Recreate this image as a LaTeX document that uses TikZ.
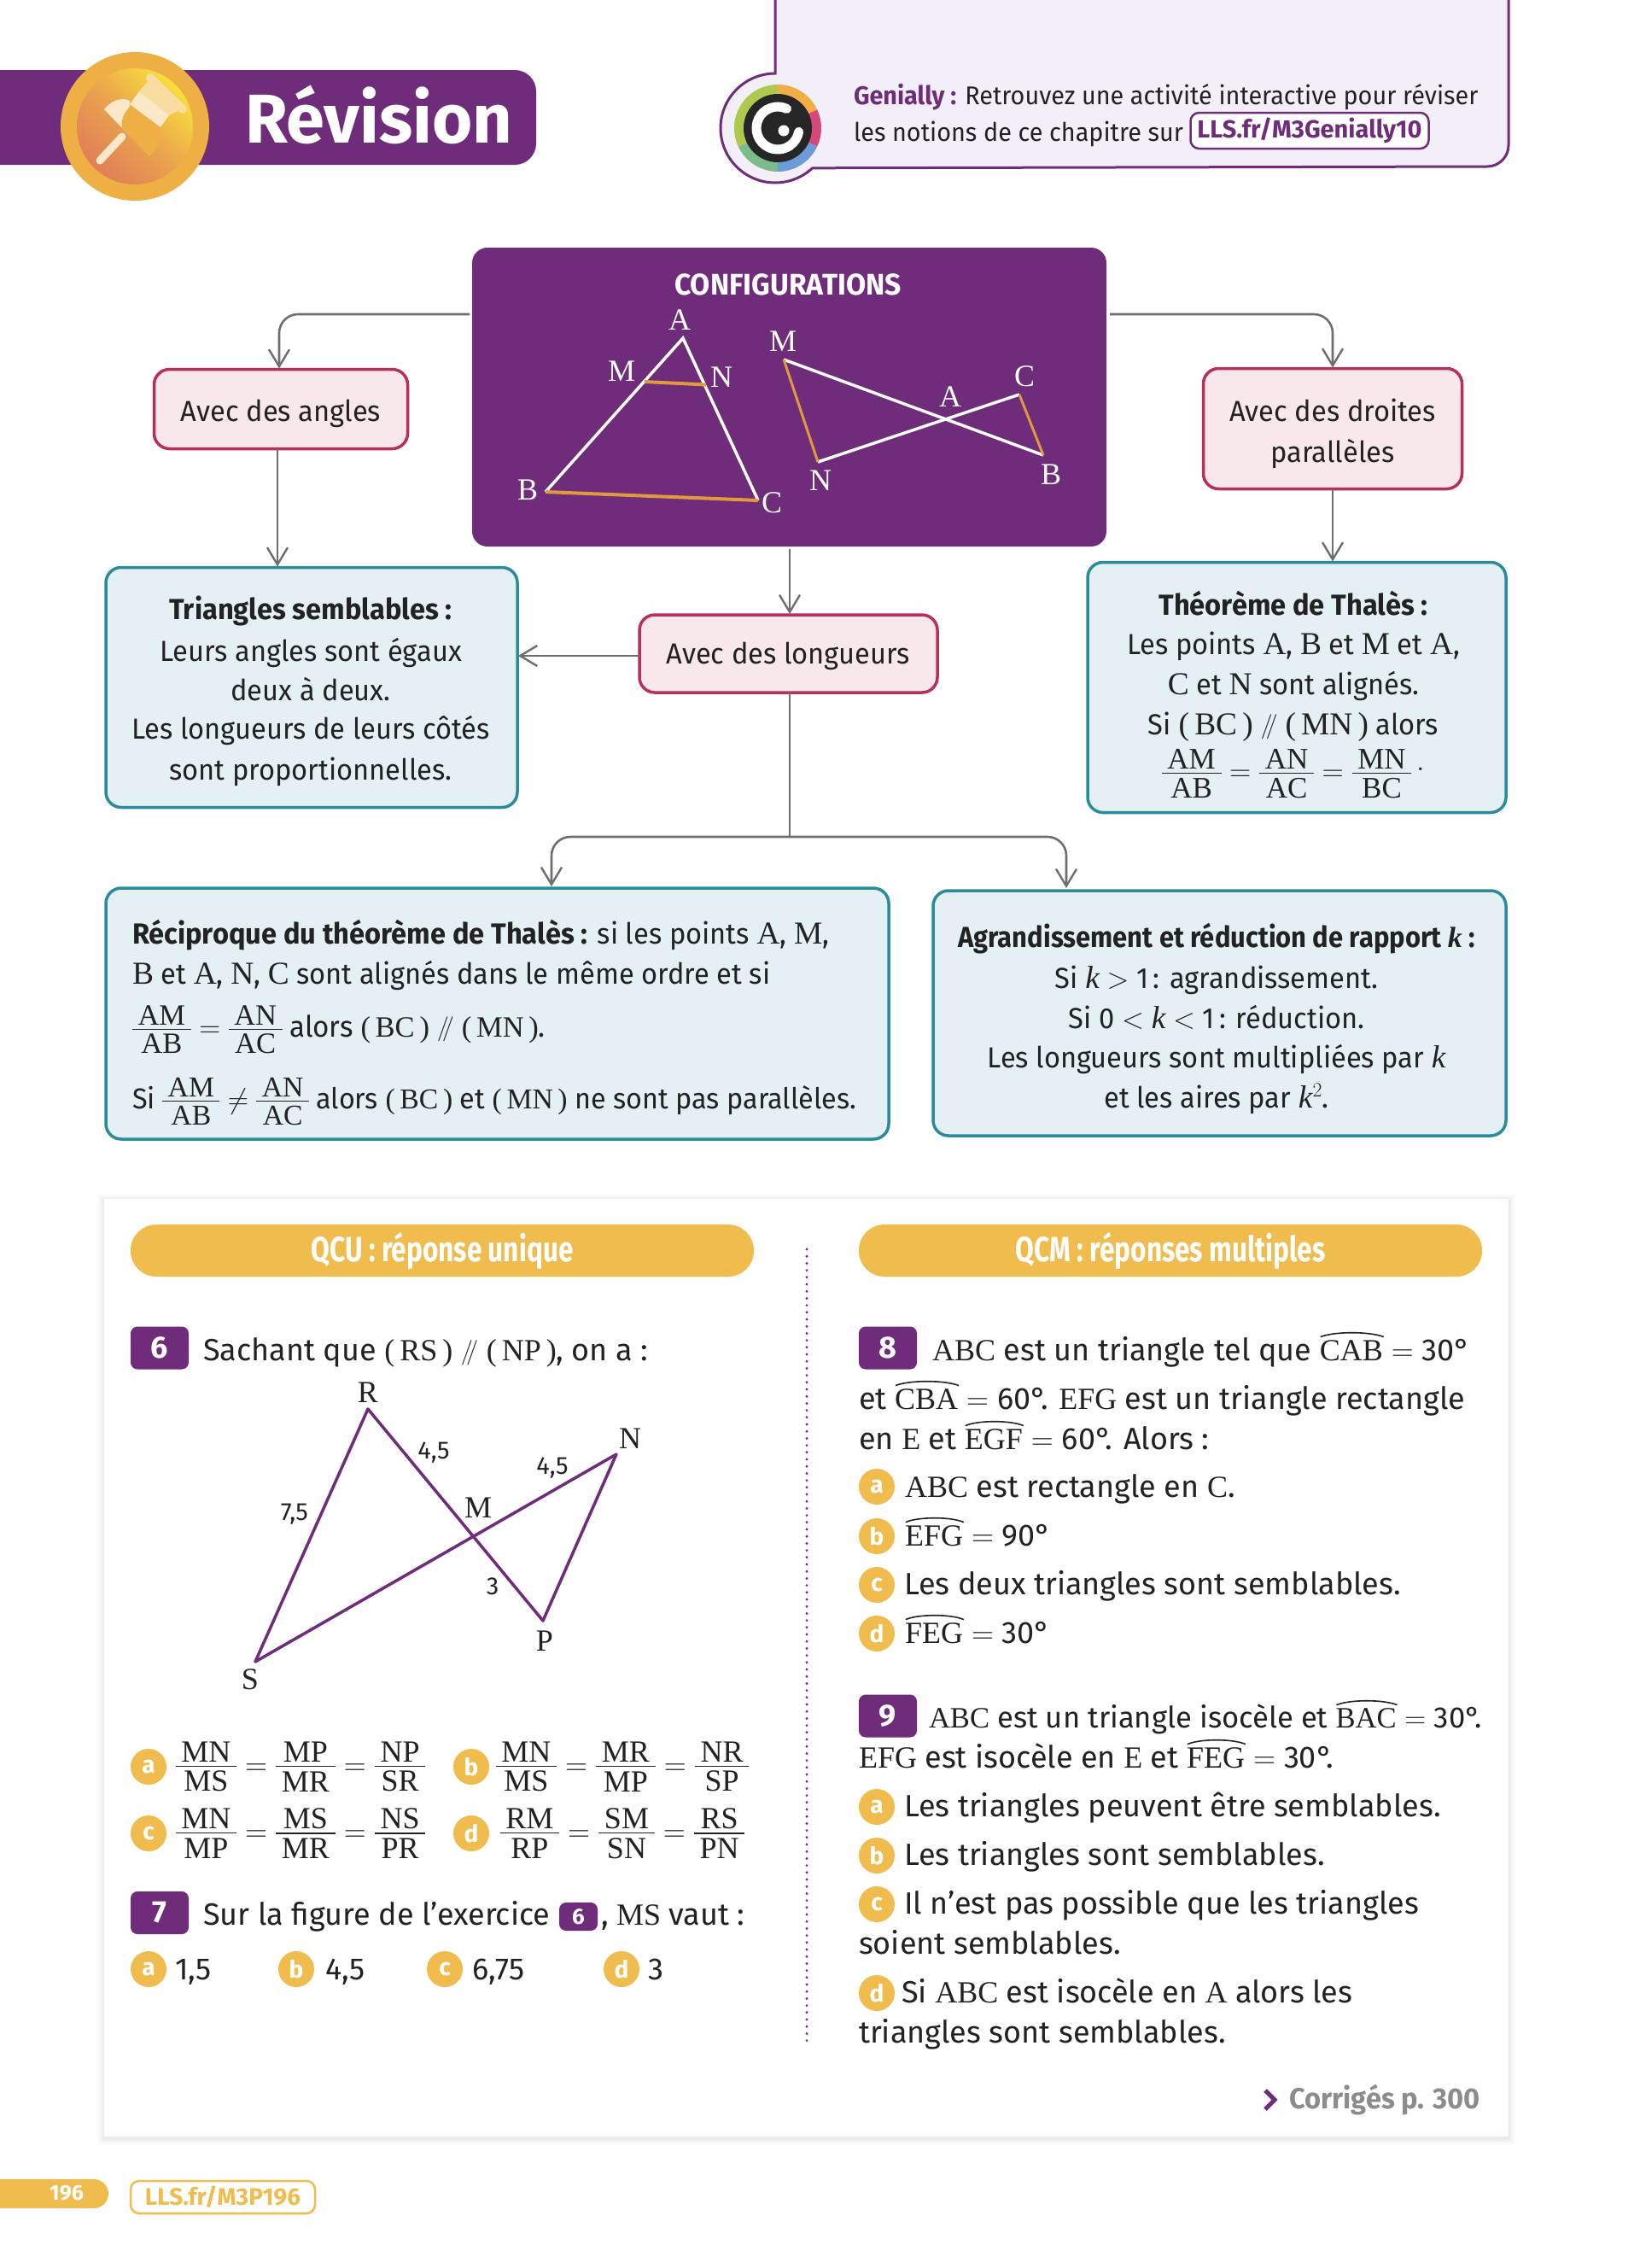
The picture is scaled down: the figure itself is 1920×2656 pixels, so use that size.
\documentclass[tikz,border=0pt]{standalone}
\usepackage{fix-cm}
\usepackage[no-math]{fontspec}
\setmainfont{Fira Sans}
\newfontfamily\fsn[FakeStretch=0.96]{Fira Sans}
\newfontfamily\agb[FakeStretch=0.91]{Fira Sans}
\newfontfamily\fsq[FakeStretch=0.77]{Fira Sans}
\newfontfamily\sr{Liberation Serif}
\newfontfamily\sru[Scale=1.1]{Liberation Serif}
\usetikzlibrary{arrows.meta,calc}
\definecolor{pur}{HTML}{6F2C7A}
\definecolor{lav}{HTML}{F3EFF8}
\definecolor{ora}{HTML}{F0BC4E}
\definecolor{oram}{HTML}{EEB045}
\definecolor{roseb}{HTML}{B8305A}
\definecolor{rosef}{HTML}{F9E8E9}
\definecolor{tealb}{HTML}{2A8C9A}
\definecolor{tealf}{HTML}{E4F0F3}
\definecolor{gcon}{HTML}{6E6E6E}
\definecolor{gtxt}{HTML}{222222}
\definecolor{lineo}{HTML}{E09A3C}
\definecolor{icy}{HTML}{F8DF3C}
\definecolor{icr}{HTML}{E07F58}
\definecolor{icm}{HTML}{EBA34E}
\definecolor{cream}{HTML}{FBE8C8}
\definecolor{creamb}{HTML}{F8DCA0}
\definecolor{lg1}{HTML}{F0AE45}
\definecolor{lg2}{HTML}{D7487A}
\definecolor{lg3}{HTML}{6C9BD8}
\definecolor{lg4}{HTML}{7CBB8A}
\definecolor{lg5}{HTML}{AFC84E}
\newcommand{\fs}[2]{\fontsize{#1}{#2}\selectfont}
\newcommand{\m}[1]{{\sr #1}}
\newcommand{\kk}{{\sr\itshape k}}
\newcommand{\pl}{\raisebox{.05em}{\fs{29}{29}$\mathbin{/\mkern-5mu/}$}}
\newcommand{\fra}[2]{\vcenter{\offinterlineskip\halign{\hfil\hskip.19em{\sr ##}\hskip.19em\hfil\cr #1\cr\noalign{\kern.12em}\omit\leaders\hrule height 1.5pt\hfill\cr\noalign{\kern.14em}#2\cr}}}
\newbox\hatbox
\newdimen\hatw
\newcommand{\ha}[1]{\hbox{\setbox\hatbox\hbox{\sr #1}\hatw=\wd\hatbox
 \rlap{\raise.74em\hbox{\begin{pgfpicture}\pgfsetlinewidth{1.6pt}\pgfsetstrokecolor{gtxt}%
 \pgfpathmoveto{\pgfpoint{0pt}{0pt}}\pgfpathcurveto{\pgfpoint{0.22\hatw}{6.5pt}}{\pgfpoint{0.78\hatw}{6.5pt}}{\pgfpoint{\hatw}{0pt}}\pgfusepath{stroke}\end{pgfpicture}}}%
 \box\hatbox}}
\tikzset{
 x=1pt,y=-1pt,
 every node/.style={inner sep=0pt,outer sep=0pt,text=gtxt},
 conn/.style={draw=gcon,line width=2.6pt,rounded corners=22pt,-{Straight Barb[length=20pt,width=24pt,line width=2.4pt]},shorten >=1pt},
 pinkbox/.style={draw=roseb,fill=rosef,line width=3.5pt,rounded corners=18pt},
 tealbox/.style={draw=tealb,fill=tealf,line width=3.5pt,rounded corners=18pt},
 txt/.style={anchor=base west,font=\fs{36}{47}},
 utxt/.style={anchor=base west,font=\let\sr\sru\fsn\fs{34}{47}},
 ctxt/.style={anchor=base,font=\let\sr\sru\fsn\fs{34}{47}},
 cfgl/.style={text=white,font=\sr\fs{36}{36}},
 badge/.style={fill=pur,rounded corners=8pt,text=white,font=\bfseries\fs{36}{36},minimum width=68pt,minimum height=50pt},
 opt/.style={circle,fill=ora,text=white,font=\bfseries\fs{28}{28},minimum size=42pt},
 pill/.style={fill=ora,rounded corners=30pt,minimum height=61pt,text=white,font=\fsq\bfseries\fs{41}{41}},
 geol/.style={font=\sr\fs{36}{36}},
 geon/.style={font=\fs{29}{29}},
 fg/.style={anchor=center,font=\fs{36}{36}},
}
\begin{document}
\begin{tikzpicture}
\useasboundingbox (0,0) rectangle (1920,2656);
\fill[white] (0,0) rectangle (1920,2656);
% header band
\fill[pur,rounded corners=25pt] (-40,82) rectangle (628,193);
\fill[oram] (158,148) circle[radius=87pt];
\shade[shading=axis,left color=icr,right color=icy,middle color=icm,shading angle=135] (158,148) circle[radius=68pt];
\draw[cream,line width=9pt,line cap=round] (117,188) -- (143,160);
\fill[creamb] (175,93) -- (213,128) -- (198,135) -- (163,107) -- cycle;
\draw[creamb,line width=10pt,line cap=round] (176,91) -- (214,128);
\fill[cream] (122,128) .. controls (130,118) and (142,113) .. (152,118) -- (150,157) -- (143,150) -- cycle;
\fill[oram] (152,125) -- (188,149) .. controls (190,160) and (186,175) .. (175,183) -- (143,150) .. controls (141,142) and (145,132) .. (152,125) -- cycle;
\fill[cream] (163,107) -- (198,135) -- (188,149) -- (152,122) -- cycle;
\node[anchor=base west,text=white,font=\bfseries\fs{81}{81}] (rev) at (287,167) {Révision};
% genially
\path[fill=lav] (908,-5) -- (908,87) arc[start angle=90,end angle=313,radius=64pt] -- (1742,195) arc[start angle=-90,end angle=0,radius=25pt] -- (1767,-5) -- cycle;
\draw[pur,line width=3pt] (908,-5) -- (908,86) arc[start angle=90,end angle=313,radius=64pt] -- (1742,195) arc[start angle=-90,end angle=0,radius=25pt] -- (1767,-5);
\coordinate (lc) at (911,150);
\fill[lg1] (lc) -- +(90:51pt) arc[start angle=90,end angle=25,radius=51pt] -- cycle;
\fill[lg2] (lc) -- +(25:51pt) arc[start angle=25,end angle=-25,radius=51pt] -- cycle;
\fill[lg3] (lc) -- +(-25:51pt) arc[start angle=-25,end angle=-90,radius=51pt] -- cycle;
\fill[lg4] (lc) -- +(-90:51pt) arc[start angle=-90,end angle=-155,radius=51pt] -- cycle;
\fill[lg5] (lc) -- +(-155:51pt) arc[start angle=-155,end angle=-270,radius=51pt] -- cycle;
\fill[black!85] (lc) circle[radius=40pt];
\draw[white,line width=11pt,line cap=round] (lc) +(65:25pt) arc[start angle=65,end angle=350,radius=25pt];
\fill[white] (918,153) circle[radius=6.5pt];
\node[utxt,font=\fsn\fs{30}{30}] (gen1) at (1000,122) {\textcolor{pur}{\bfseries Genially :} Retrouvez une activité interactive pour réviser};
\node[utxt,font=\fsn\fs{30}{30}] (gen2) at (1000,165) {les notions de ce chapitre sur};
\node[draw=pur,fill=white,line width=2.5pt,rounded corners=10pt,minimum width=279pt,minimum height=42pt,text=pur,font=\bfseries\fs{29}{29}] (lls) at (1534,153) {LLS.fr/M3Genially10};
% configurations box
\node[fill=pur,rounded corners=18pt,minimum width=743pt,minimum height=350pt] (cfg) at (924.5,465) {};
\node[text=white,font=\fsn\bfseries\fs{35}{35}] (cfgt) at (923,333) {CONFIGURATIONS};
\coordinate (ta) at (800,396);\coordinate (tb) at (639,576);\coordinate (tc) at (888,586);
\coordinate (tm) at (755,447);\coordinate (tn) at (827,450.5);
\draw[white,line width=3.5pt] (tb) -- (ta) -- (tc);
\draw[lineo,line width=4pt] (tb) -- (tc);
\draw[lineo,line width=4pt] (tm) -- (tn);
\coordinate (xm) at (918,421);\coordinate (xn) at (958,541);\coordinate (xc) at (1194,462);\coordinate (xb) at (1222,533);
\draw[white,line width=3.5pt] (xm) -- (xb);
\draw[white,line width=3.5pt] (xn) -- (xc);
\draw[lineo,line width=3pt] (xm) -- (xn);
\draw[lineo,line width=3pt] (xc) -- (xb);
\node[cfgl] (l1) at (796,375) {A};
\node[cfgl] (l2) at (728,435) {M};
\node[cfgl] (l3) at (845,442) {N};
\node[cfgl] (l4) at (618,574) {B};
\node[cfgl] (l5) at (904,589) {C};
\node[cfgl] (l6) at (917,400) {M};
\node[cfgl] (l7) at (1113,465) {A};
\node[cfgl] (l8) at (1200,441) {C};
\node[cfgl] (l9) at (961,563) {N};
\node[cfgl] (l10) at (1231,556) {B};
% flow boxes
\node[pinkbox,minimum width=297pt,minimum height=93pt] (ang) at (329,479) {};
\node[pinkbox,minimum width=303pt,minimum height=141pt] (par) at (1561,502) {};
\node[pinkbox,minimum width=349pt,minimum height=91pt] (lon) at (923.5,765.5) {};
\node[tealbox,minimum width=482pt,minimum height=281pt] (tri) at (365,805) {};
\node[tealbox,minimum width=490pt,minimum height=293pt] (tha) at (1519,805) {};
\node[tealbox,minimum width=917pt,minimum height=294pt] (rec) at (582.5,1187) {};
\node[tealbox,minimum width=671pt,minimum height=287pt] (agr) at (1428.5,1186.5) {};
\node[ctxt] (angt) at (329,493) {Avec des angles};
\node[ctxt] (part1) at (1561,493) {Avec des droites};
\node[ctxt] (part2) at (1561,541) {parallèles};
\node[ctxt] (lont) at (923,777) {Avec des longueurs};
% Triangles text
\node[ctxt,font=\fsn\bfseries\fs{34}{34}] (tr1) at (364,725) {Triangles semblables :};
\node[ctxt] (tr2) at (364,774) {Leurs angles sont égaux};
\node[ctxt] (tr3) at (364,820) {deux à deux.};
\node[ctxt] (tr4) at (364,865) {Les longueurs de leurs côtés};
\node[ctxt] (tr5) at (364,913) {sont proportionnelles.};
% Thales text
\node[ctxt,font=\fsn\bfseries\fs{34}{34}] (th1) at (1515,720) {Théorème de Thalès :};
\node[ctxt] (th2) at (1515,766) {Les points \m{A}, \m{B} et \m{M} et \m{A},};
\node[ctxt] (th3) at (1515,813) {\m{C} et \m{N} sont alignés.};
\node[ctxt] (th4) at (1515,860) {Si \m{(\,BC\,)} \pl\ \m{(\,MN\,)} alors};
\node[fg,font=\fs{35}{35}] (th5) at (1515,906) {$\fra{AM}{AB}=\fra{AN}{AC}=\fra{MN}{BC}\,{}^{\textstyle.}$};
% Reciproque text
\node[utxt] (r1) at (155,1105) {{\bfseries Réciproque du théorème de Thalès :} si les points \m{A}, \m{M},};
\node[utxt] (r2) at (155,1152) {\m{B} et \m{A}, \m{N}, \m{C} sont alignés dans le même ordre et si};
\node[utxt,anchor=west,font=\fsn\fs{34.5}{47}] (r3) at (155,1206) {$\fra{AM}{AB}=\fra{AN}{AC}$ alors \m{(\,BC\,)} \pl\ \m{(\,MN\,)}.};
\node[utxt,anchor=west,font=\fsn\fs{33.7}{47}] (r4) at (155,1290) {Si $\fra{AM}{AB}\neq\fra{AN}{AC}$ alors \m{(\,BC\,)} et \m{(\,MN\,)} ne sont pas parallèles.};
% Agrandissement text
\node[ctxt,font=\agb\bfseries\fs{34}{34}] (a1) at (1425,1109) {Agrandissement et réduction de rapport {\sr\itshape k} :};
\node[ctxt] (a2) at (1425,1157) {Si \kk\ $>$ 1\,: agrandissement.};
\node[ctxt] (a3) at (1425,1204) {Si 0 $<$ \kk\ $<$ 1\,: réduction.};
\node[ctxt] (a4) at (1425,1250) {Les longueurs sont multipliées par \kk};
\node[ctxt] (a5) at (1425,1297) {et les aires par \kk$^2$.};
% connectors
\coordinate (cl) at (550,368);
\coordinate (cr) at (1300,368);
\coordinate (cc) at (925,643);
\coordinate (bus) at (925,980);
\draw[conn] (cl) -| ([xshift=-2pt]ang.north);
\draw[conn] (cr) -| (par.north);
\draw[conn] ([xshift=-4pt]ang.south) -- ([xshift=-4pt]ang.south |- tri.north);
\draw[conn] (par.south) -- (par.south |- tha.north);
\draw[conn] (cc) -- (cc |- lon.north);
\draw[conn] (lon.west |- 0,768) -- (tri.east |- 0,768);
\draw[gcon,line width=2.6pt] (cc |- lon.south) -- (bus);
\coordinate (busl) at (646,1039);
\coordinate (busr) at (1249,1041);
\draw[conn] (bus) -| (busl);
\draw[conn] (bus) -| (busr);
% panel with shadow
\foreach \e/\c in {8/1.5,6/3,4/5,2/8}{
 \fill[black!\c] (122-\e,1404-\e+2) rectangle (1767+\e,2502+\e+2);
}
\fill[white] (122,1404) rectangle (1767,2502);
\node[pill,minimum width=730pt] (qcu) at (518,1464.5) {\raisebox{-3pt}{QCU : réponse unique}};
\node[pill,minimum width=730pt] (qcm) at (1371,1464.5) {\raisebox{-3pt}{QCM : réponses multiples}};
\draw[pur,line width=3.2pt,line cap=round,dash pattern=on 0pt off 8.2pt] (945,1463) -- (945,2396);
% exercise 6
\node[badge] (b6) at (187,1578.5) {6};
\node[txt] (q6) at (238,1593) {Sachant que \m{(\,RS\,)} \pl\ \m{(\,NP\,)}, on a :};
\coordinate (gr) at (431,1650);\coordinate (gs) at (299,1946);\coordinate (gn) at (722,1703);\coordinate (gp) at (636,1898);
\draw[pur,line width=3.5pt,line join=round] (gr) -- (gs) -- (gn) -- (gp) -- cycle;
\node[geol] (lr) at (431,1631) {R};
\node[geol] (ln) at (738,1685) {N};
\node[geol] (lm) at (560,1766) {M};
\node[geol] (lp) at (638,1922) {P};
\node[geol] (ls) at (293,1967) {S};
\node[geon] (n1) at (508,1701) {4,5};
\node[geon] (n2) at (647,1719) {4,5};
\node[geon] (n3) at (345,1773) {7,5};
\node[geon] (n4) at (577,1858) {3};
\node[opt] (oa) at (174,2069) {a};
\node[fg] (fa) at (352,2069) {$\fra{MN}{MS}=\fra{MP}{MR}=\fra{NP}{SR}$};
\node[opt] (ob) at (552,2069) {b};
\node[fg] (fb) at (729,2069) {$\fra{MN}{MS}=\fra{MR}{MP}=\fra{NR}{SP}$};
\node[opt] (oc) at (174,2147) {c};
\node[fg] (fc) at (352,2147) {$\fra{MN}{MP}=\fra{MS}{MR}=\fra{NS}{PR}$};
\node[opt] (od) at (552,2147) {d};
\node[fg] (fd) at (729,2147) {$\fra{RM}{RP}=\fra{SM}{SN}=\fra{RS}{PN}$};
% exercise 7
\node[badge] (b7) at (187,2240) {7};
\node[txt] (q7) at (238,2254) {Sur la figure de l’exercice};
\node[badge,minimum width=45pt,minimum height=33pt,font=\bfseries\fs{26}{26}] (b6b) at (677.5,2244.5) {6};
\node[txt] (q7b) at (704,2254) {, \m{MS} vaut :};
\node[opt] (p1) at (174,2306) {a};
\node[txt] (t1) at (205,2318) {1,5};
\node[opt] (p2) at (347,2306) {b};
\node[txt] (t2) at (381,2318) {4,5};
\node[opt] (p3) at (521,2306) {c};
\node[txt] (t3) at (553,2318) {6,75};
\node[opt] (p4) at (728,2306) {d};
\node[txt] (t4) at (759,2318) {3};
% exercise 8
\node[badge] (b8) at (1040,1578.5) {8};
\node[txt] (q8a) at (1092,1593) {\m{ABC} est un triangle tel que $\ha{CAB}={}$30°};
\node[txt] (q8b) at (1006,1650) {et $\ha{CBA}={}$60°. \m{EFG} est un triangle rectangle};
\node[txt] (q8c) at (1006,1697) {en \m{E} et $\ha{EGF}={}$60°. Alors :};
\node[opt] (o8a) at (1027,1741) {a};
\node[txt] (t8a) at (1060,1753) {\m{ABC} est rectangle en \m{C}.};
\node[opt] (o8b) at (1027,1799) {b};
\node[txt] (t8b) at (1060,1810) {$\ha{EFG}={}$90°};
\node[opt] (o8c) at (1027,1856) {c};
\node[txt] (t8c) at (1059,1867) {Les deux triangles sont semblables.};
\node[opt] (o8d) at (1027,1913) {d};
\node[txt] (t8d) at (1060,1924) {$\ha{FEG}={}$30°};
% exercise 9
\node[badge] (b9) at (1040,2009.5) {9};
\node[txt,font=\fs{34.6}{47}] (q9a) at (1088,2023) {\m{ABC} est un triangle isocèle et $\ha{BAC}={}$30°.};
\node[txt] (q9b) at (1006,2070) {\m{EFG} est isocèle en \m{E} et $\ha{FEG}={}$30°.};
\node[opt] (o9a) at (1027,2116) {a};
\node[txt] (t9a) at (1059,2127) {Les triangles peuvent être semblables.};
\node[opt] (o9b) at (1027,2173) {b};
\node[txt] (t9b) at (1059,2184) {Les triangles sont semblables.};
\node[opt] (o9c) at (1027,2230) {c};
\node[txt] (t9c) at (1059,2241) {Il n’est pas possible que les triangles};
\node[txt] (t9c2) at (1006,2288) {soient semblables.};
\node[opt] (o9d) at (1027,2334) {d};
\node[txt] (t9d) at (1056,2345) {Si \m{ABC} est isocèle en \m{A} alors les};
\node[txt] (t9d2) at (1006,2392) {triangles sont semblables.};
% corriges
\node[anchor=base east,text=black!45,font=\fsn\bfseries\fs{34}{34}] (cor) at (1734,2469) {Corrigés p. 300};
\draw[pur,line width=5pt] (1482,2448) -- (1493,2459) -- (1482,2470);
% footer
\fill[ora,rounded corners=17pt] (-40,2552) rectangle (127,2586);
\node[text=white,font=\bfseries\fs{25}{25}] (pg) at (78,2568) {196};
\node[draw=ora,rounded corners=10pt,line width=2.5pt,minimum width=216pt,minimum height=38pt,text=ora,font=\bfseries\fs{28}{28}] (ft) at (261,2573) {LLS.fr/M3P196};
\end{tikzpicture}
\end{document}
